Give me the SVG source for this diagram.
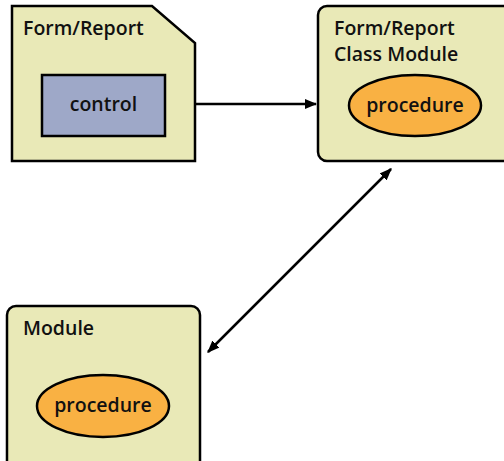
<svg xmlns="http://www.w3.org/2000/svg" width="504" height="461" viewBox="0 0 504 461">
<defs>
<style>
.box{fill:#e9e9b7;stroke:#000;stroke-width:2.5;}
.ctl{fill:#9ea8c8;stroke:#000;stroke-width:2.5;}
.proc{fill:#f9b143;stroke:#000;stroke-width:2.5;}
.t{font-family:"Open Sans","Liberation Sans",sans-serif;font-weight:600;font-size:19.5px;fill:#111;}
.c{stroke:#000;stroke-width:2.5;fill:none;}
</style>
<marker id="ah" viewBox="0 0 10 10" refX="9" refY="5" markerWidth="5" markerHeight="5" orient="auto-start-reverse" markerUnits="strokeWidth">
<path d="M0,1 L10,5 L0,9 z" fill="#000"/>
</marker>
</defs>
<g id="form-report">
<path class="box" d="M12,6 H152 L195,43 V161 H12 Z"/>
<text class="t" x="23" y="35">Form/Report</text>
</g>
<g id="control">
<rect class="ctl" x="42" y="75" width="123" height="61"/>
<text class="t" x="103.5" y="111" text-anchor="middle">control</text>
</g>
<g id="class-module">
<rect class="box" x="318" y="6" width="200" height="155" rx="9"/>
<text class="t" x="334" y="35">Form/Report</text>
<text class="t" x="334" y="61">Class Module</text>
<ellipse class="proc" cx="415" cy="105.5" rx="66" ry="30.5"/>
<text class="t" x="415" y="112" text-anchor="middle">procedure</text>
</g>
<g id="module">
<rect class="box" x="7" y="306" width="193" height="170" rx="9"/>
<text class="t" x="23" y="335">Module</text>
<ellipse class="proc" cx="103" cy="406" rx="66" ry="31"/>
<text class="t" x="103" y="412" text-anchor="middle">procedure</text>
</g>
<g id="connectors">
<line class="c" x1="196" y1="104" x2="316" y2="104" marker-end="url(#ah)"/>
<line class="c" x1="391" y1="169" x2="208" y2="352" marker-start="url(#ah)" marker-end="url(#ah)"/>
</g>
</svg>
